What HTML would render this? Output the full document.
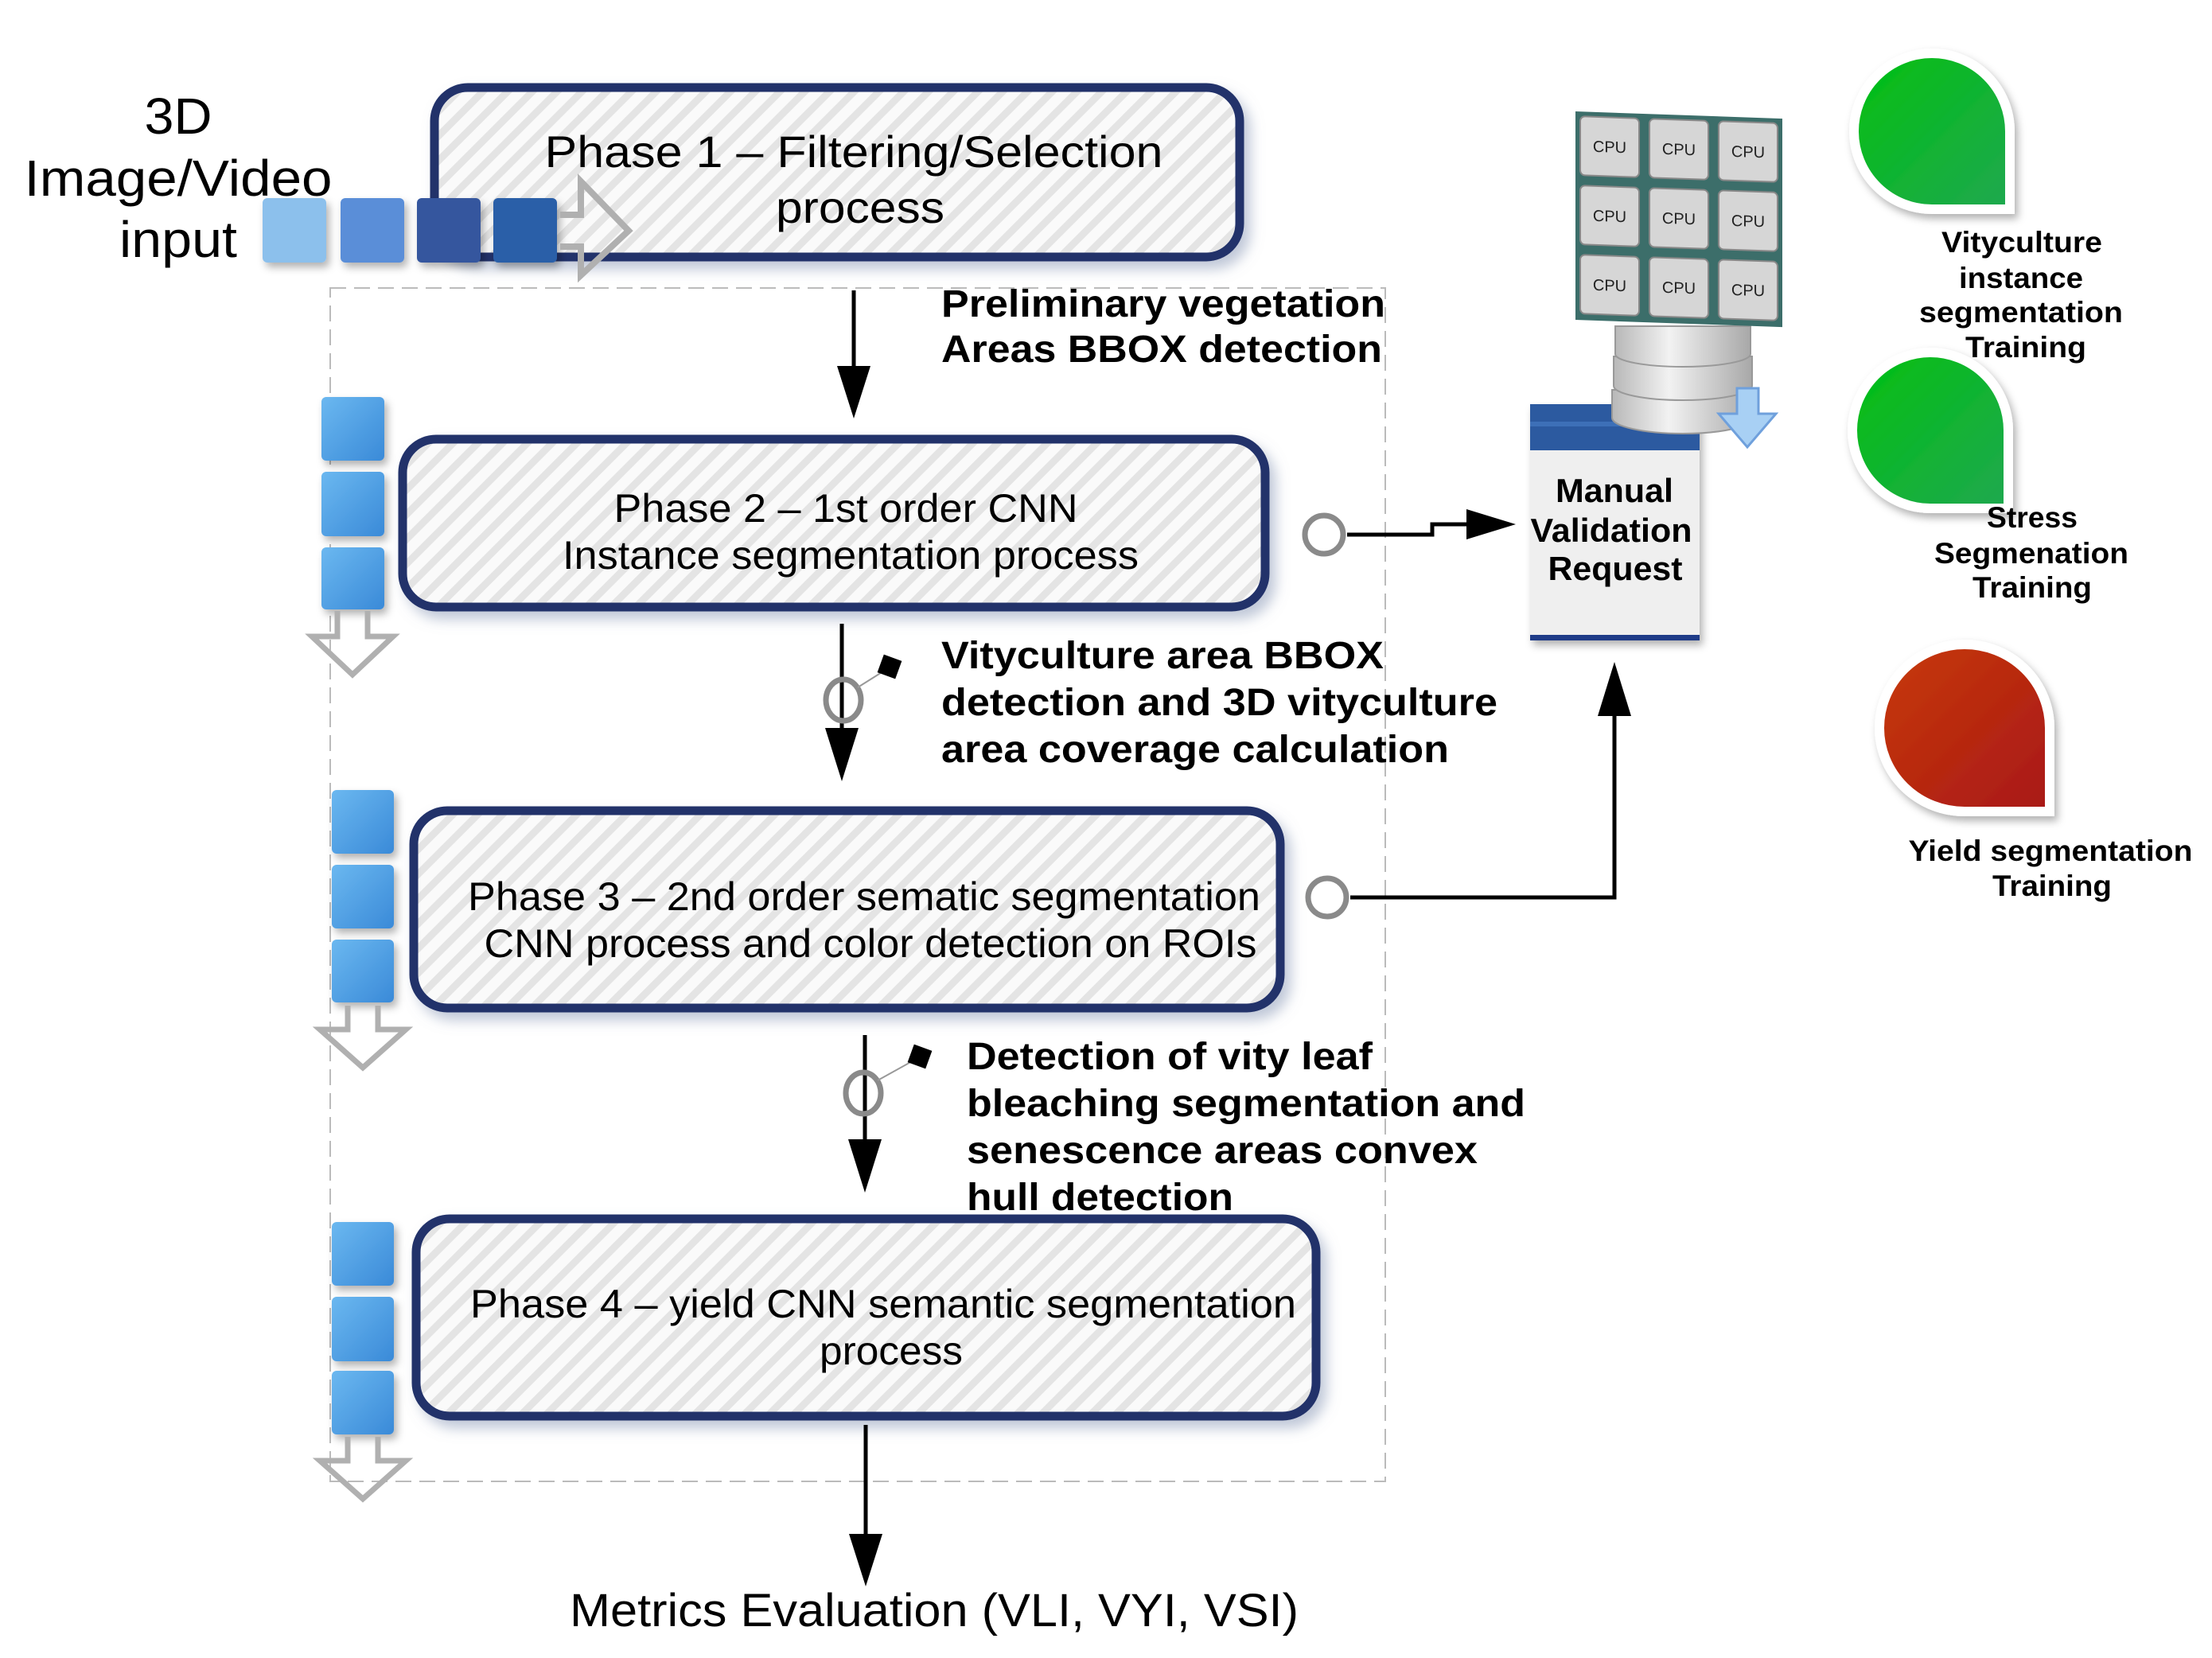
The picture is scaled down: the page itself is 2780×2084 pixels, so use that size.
<!DOCTYPE html>
<html><head><meta charset="utf-8"><style>
html,body{margin:0;padding:0;background:#fff}
svg{display:block}
text{font-family:"Liberation Sans",Arial,sans-serif}
</style></head><body>
<svg width="2780" height="2084" viewBox="0 0 2780 2084" xmlns="http://www.w3.org/2000/svg">
<defs>
<pattern id="hatch" width="22" height="22" patternUnits="userSpaceOnUse" patternTransform="rotate(45)">
<rect width="22" height="22" fill="#fafafa"/><rect width="9" height="22" fill="#e4e4e4"/>
</pattern>
<filter id="sh" x="-10%" y="-10%" width="125%" height="130%"><feDropShadow dx="8" dy="10" stdDeviation="8" flood-color="#8090b0" flood-opacity="0.5"/></filter>
<filter id="sh2" x="-20%" y="-20%" width="150%" height="150%"><feDropShadow dx="4" dy="6" stdDeviation="5" flood-color="#000" flood-opacity="0.3"/></filter>
<linearGradient id="bl" x1="0" y1="0" x2="1" y2="1"><stop offset="0" stop-color="#6bb8f0"/><stop offset="1" stop-color="#3a8ad8"/></linearGradient>
<linearGradient id="g1" x1="0" y1="0" x2="1" y2="1"><stop offset="0" stop-color="#00c010"/><stop offset="1" stop-color="#20a850"/></linearGradient>
<linearGradient id="r1" x1="0" y1="0" x2="1" y2="1"><stop offset="0" stop-color="#c83a08"/><stop offset="1" stop-color="#a81818"/></linearGradient>
<linearGradient id="db" x1="0" y1="0" x2="1" y2="0"><stop offset="0" stop-color="#b8b8b8"/><stop offset="0.4" stop-color="#f2f2f2"/><stop offset="1" stop-color="#a8a8a8"/></linearGradient>
</defs>

<!-- dashed frame -->
<rect x="415" y="362" width="1326" height="1500" fill="none" stroke="#bbb" stroke-width="2" stroke-dasharray="20,10"/>

<!-- Phase boxes -->
<g filter="url(#sh)">
<rect x="546" y="110" width="1012" height="213" rx="42" fill="url(#hatch)" stroke="#22326a" stroke-width="11"/>
<rect x="506" y="552" width="1084" height="211" rx="42" fill="url(#hatch)" stroke="#22326a" stroke-width="11"/>
<rect x="520" y="1019" width="1089" height="248" rx="42" fill="url(#hatch)" stroke="#22326a" stroke-width="11"/>
<rect x="523" y="1532" width="1131" height="248" rx="42" fill="url(#hatch)" stroke="#22326a" stroke-width="11"/>
</g>

<!-- input squares (in front) -->
<g filter="url(#sh2)">
<rect x="330" y="249" width="80" height="81" rx="6" fill="#8cc0ec"/>
<rect x="428" y="249" width="80" height="81" rx="6" fill="#5a8ed8"/>
<rect x="524" y="249" width="80" height="81" rx="6" fill="#34579e"/>
<rect x="620" y="249" width="80" height="81" rx="6" fill="#2a5ea8"/>
</g>
<path d="M704,270 L730,270 L730,228 L790,290 L730,346 L730,310 L704,310" fill="none" stroke="#b0b0b0" stroke-width="8"/>

<text x="224" y="168" font-size="64" text-anchor="middle" textLength="85" lengthAdjust="spacingAndGlyphs">3D</text>
<text x="224" y="246" font-size="64" text-anchor="middle" textLength="387" lengthAdjust="spacingAndGlyphs">Image/Video</text>
<text x="224" y="323" font-size="64" text-anchor="middle" textLength="148" lengthAdjust="spacingAndGlyphs">input</text>

<text x="1073" y="210" font-size="56" text-anchor="middle" textLength="777" lengthAdjust="spacingAndGlyphs">Phase 1 – Filtering/Selection</text>
<text x="1081" y="280" font-size="56" text-anchor="middle" textLength="212" lengthAdjust="spacingAndGlyphs">process</text>
<text x="1063" y="656" font-size="50" text-anchor="middle" textLength="583" lengthAdjust="spacingAndGlyphs">Phase 2 – 1st order CNN</text>
<text x="1069" y="715" font-size="50" text-anchor="middle" textLength="724" lengthAdjust="spacingAndGlyphs">Instance segmentation process</text>
<text x="1086" y="1144" font-size="50" text-anchor="middle" textLength="996" lengthAdjust="spacingAndGlyphs">Phase 3 – 2nd order sematic segmentation</text>
<text x="1094" y="1203" font-size="50" text-anchor="middle" textLength="971" lengthAdjust="spacingAndGlyphs">CNN process and color detection on ROIs</text>
<text x="1110" y="1656" font-size="50" text-anchor="middle" textLength="1038" lengthAdjust="spacingAndGlyphs">Phase 4 – yield CNN semantic segmentation</text>
<text x="1120" y="1715" font-size="50" text-anchor="middle" textLength="180" lengthAdjust="spacingAndGlyphs">process</text>

<!-- side square stacks -->
<g filter="url(#sh2)">
<rect x="404" y="499" width="79" height="80" rx="6" fill="url(#bl)"/>
<rect x="404" y="593" width="79" height="81" rx="6" fill="url(#bl)"/>
<rect x="404" y="688" width="79" height="78" rx="6" fill="url(#bl)"/>
<rect x="417" y="993" width="78" height="80" rx="6" fill="url(#bl)"/>
<rect x="417" y="1087" width="78" height="80" rx="6" fill="url(#bl)"/>
<rect x="417" y="1181" width="78" height="79" rx="6" fill="url(#bl)"/>
<rect x="417" y="1536" width="78" height="80" rx="6" fill="url(#bl)"/>
<rect x="417" y="1630" width="78" height="81" rx="6" fill="url(#bl)"/>
<rect x="417" y="1723" width="78" height="80" rx="6" fill="url(#bl)"/>
</g>
<g fill="none" stroke="#b0b0b0" stroke-width="7">
<path d="M424,768 L424,800 L392,800 L443,848 L494,800 L462,800 L462,768"/>
<path d="M437,1264 L437,1294 L402,1294 L456,1342 L510,1294 L475,1294 L475,1264"/>
<path d="M437,1806 L437,1836 L402,1836 L456,1884 L510,1836 L475,1836 L475,1806"/>
</g>

<!-- arrows -->
<g stroke="#000" stroke-width="5" fill="none">
<line x1="1073" y1="365" x2="1073" y2="470"/>
<line x1="1058" y1="784" x2="1058" y2="920"/>
<line x1="1087" y1="1301" x2="1087" y2="1440"/>
<line x1="1088" y1="1791" x2="1088" y2="1935"/>
<path d="M1693,672 L1800,672 L1800,659 L1850,659"/>
<path d="M1697,1128 L2029,1128 L2029,890"/>
</g>
<g fill="#000">
<path d="M1052,460 L1094,460 L1073,526z"/>
<path d="M1037,915 L1079,915 L1058,982z"/>
<path d="M1066,1432 L1108,1432 L1087,1499z"/>
<path d="M1067,1928 L1109,1928 L1088,1994z"/>
<path d="M1843,640 L1905,659 L1843,678z"/>
<path d="M2008,900 L2050,900 L2029,832z"/>
</g>
<g fill="none" stroke="#8a8a8a" stroke-width="7">
<circle cx="1664" cy="672" r="24"/>
<circle cx="1668" cy="1128" r="24"/>
<ellipse cx="1060" cy="880" rx="22" ry="26"/>
<ellipse cx="1085" cy="1374" rx="22" ry="26"/>
</g>
<g stroke="#999" stroke-width="2"><line x1="1078" y1="864" x2="1113" y2="842"/><line x1="1103" y1="1358" x2="1148" y2="1333"/></g>
<rect x="1106" y="826" width="24" height="24" fill="#000" transform="rotate(20 1118 838)"/>
<rect x="1144" y="1316" width="24" height="24" fill="#000" transform="rotate(20 1156 1328)"/>

<!-- labels -->
<g font-weight="bold" font-size="48">
<text x="1183" y="398" textLength="558" lengthAdjust="spacingAndGlyphs">Preliminary vegetation</text>
<text x="1183" y="455" textLength="554" lengthAdjust="spacingAndGlyphs">Areas BBOX detection</text>
<text x="1183" y="840" textLength="556" lengthAdjust="spacingAndGlyphs">Vityculture area BBOX</text>
<text x="1183" y="899" textLength="699" lengthAdjust="spacingAndGlyphs">detection and 3D vityculture</text>
<text x="1183" y="958" textLength="638" lengthAdjust="spacingAndGlyphs">area coverage calculation</text>
<text x="1215" y="1344" textLength="510" lengthAdjust="spacingAndGlyphs">Detection of vity leaf</text>
<text x="1215" y="1403" textLength="702" lengthAdjust="spacingAndGlyphs">bleaching segmentation and</text>
<text x="1215" y="1462" textLength="642" lengthAdjust="spacingAndGlyphs">senescence areas convex</text>
<text x="1215" y="1521" textLength="335" lengthAdjust="spacingAndGlyphs">hull detection</text>
</g>
<text x="1174" y="2044" font-size="58" text-anchor="middle" textLength="916" lengthAdjust="spacingAndGlyphs">Metrics Evaluation (VLI, VYI, VSI)</text>

<!-- Manual validation -->
<g filter="url(#sh2)">
<rect x="1923" y="508" width="213" height="297" fill="#efefef"/>
</g>
<rect x="1923" y="508" width="213" height="58" fill="#2c5aa0"/>
<rect x="1923" y="530" width="213" height="6" fill="#3d70b8"/>
<rect x="1923" y="798" width="213" height="7" fill="#1f3c88"/>
<g font-weight="bold" font-size="42" text-anchor="middle">
<text x="2029" y="631" textLength="148" lengthAdjust="spacingAndGlyphs">Manual</text>
<text x="2025" y="681" textLength="203" lengthAdjust="spacingAndGlyphs">Validation</text>
<text x="2030" y="729" textLength="169" lengthAdjust="spacingAndGlyphs">Request</text>
</g>

<!-- database -->
<g stroke="#999" stroke-width="2">
<path d="M2026,490 L2026,525 A89,20 0 0 0 2204,525 L2204,490z" fill="url(#db)"/>
<path d="M2028,448 L2028,485 A87,18 0 0 0 2202,485 L2202,448z" fill="url(#db)"/>
<path d="M2030,410 L2030,445 A85,16 0 0 0 2200,445 L2200,410z" fill="url(#db)"/>
</g>
<path d="M2183,488 L2210,488 L2210,520 L2232,520 L2196,562 L2160,520 L2183,520z" fill="#a8d0f4" stroke="#6fa0dc" stroke-width="3"/>

<!-- CPU grid -->
<g font-size="20" text-anchor="middle" fill="#222">
<g transform="translate(1980,140) skewY(2)">
<rect x="0" y="0" width="260" height="262" fill="#3c6e6a"/>
<g fill="#d6d6d6" stroke="#888" stroke-width="2">
<rect x="6" y="6" width="74" height="74" rx="6"/><rect x="93" y="6" width="74" height="74" rx="6"/><rect x="180" y="6" width="74" height="74" rx="6"/>
<rect x="6" y="93" width="74" height="74" rx="6"/><rect x="93" y="93" width="74" height="74" rx="6"/><rect x="180" y="93" width="74" height="74" rx="6"/>
<rect x="6" y="180" width="74" height="74" rx="6"/><rect x="93" y="180" width="74" height="74" rx="6"/><rect x="180" y="180" width="74" height="74" rx="6"/>
</g>
<text x="43" y="50">CPU</text><text x="130" y="50">CPU</text><text x="217" y="50">CPU</text>
<text x="43" y="137">CPU</text><text x="130" y="137">CPU</text><text x="217" y="137">CPU</text>
<text x="43" y="224">CPU</text><text x="130" y="224">CPU</text><text x="217" y="224">CPU</text>
</g>
</g>

<!-- drops -->
<g filter="url(#sh2)" stroke="#fff" stroke-width="12">
<path d="M2526,263 L2429,263 A98,98 0 1 1 2526,165 Z" fill="url(#g1)"/>
<path d="M2524,639 L2426,639 A98,98 0 1 1 2524,541 Z" fill="url(#g1)"/>
<path d="M2576,1020 L2469,1020 A107,105 0 1 1 2576,915 Z" fill="url(#r1)"/>
</g>
<g font-weight="bold" font-size="37" text-anchor="middle">
<text x="2541" y="317" textLength="202" lengthAdjust="spacingAndGlyphs">Vityculture</text>
<text x="2540" y="362" textLength="156" lengthAdjust="spacingAndGlyphs">instance</text>
<text x="2540" y="405" textLength="256" lengthAdjust="spacingAndGlyphs">segmentation</text>
<text x="2546" y="449" textLength="152" lengthAdjust="spacingAndGlyphs">Training</text>
<text x="2554" y="663" textLength="114" lengthAdjust="spacingAndGlyphs">Stress</text>
<text x="2553" y="708" textLength="244" lengthAdjust="spacingAndGlyphs">Segmenation</text>
<text x="2554" y="751" textLength="150" lengthAdjust="spacingAndGlyphs">Training</text>
<text x="2577" y="1082" textLength="357" lengthAdjust="spacingAndGlyphs">Yield segmentation</text>
<text x="2579" y="1126" textLength="150" lengthAdjust="spacingAndGlyphs">Training</text>
</g>
</svg>
</body></html>
